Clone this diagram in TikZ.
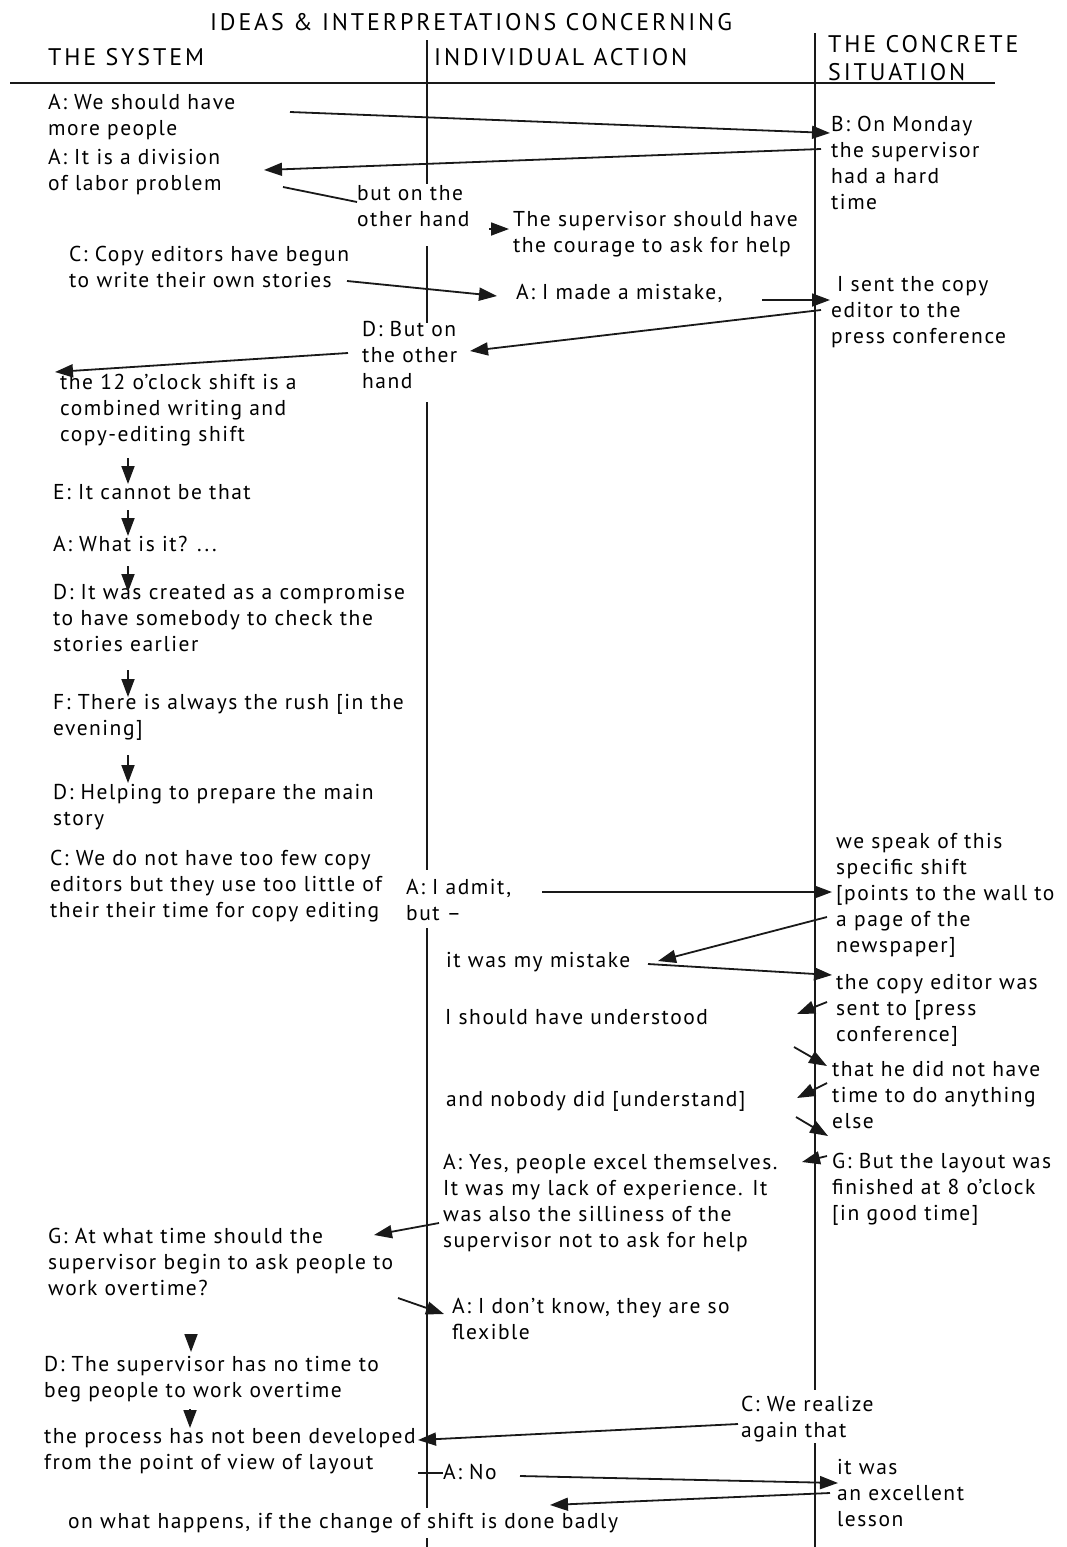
\documentclass[tikz,border=0pt]{standalone}
\usepackage{fontspec}
\setmainfont[LetterSpace=7]{PT Sans}
\newfontfamily\hdrfont[LetterSpace=12]{PT Sans}
\usetikzlibrary{arrows.meta}
\newcommand\tfont{\fontsize{21.5}{26}\selectfont}
\newcommand\hfont{\hdrfont\fontsize{24}{28}\selectfont}
\begin{document}
\begin{tikzpicture}[x=1pt,y=-1pt,
  txt/.style={anchor=north west,inner sep=0pt,align=left,font=\tfont},
  hdr/.style={anchor=north west,inner sep=0pt,align=left,font=\hfont},
  rule/.style={line width=1.8pt,draw=black!90},
  arr/.style={line width=1.8pt,draw=black!90,-{Triangle[length=18pt,width=13pt]}},
  conn/.style={line width=1.8pt,draw=black!90}]
\useasboundingbox[fill=white] (0,0) rectangle (1066,1547);

% header
\node[hdr,anchor=north] (hTitle) at (471,11) {\strut IDEAS \& INTERPRETATIONS CONCERNING};
\node[hdr] (hSys) at (48,46) {\strut THE SYSTEM};
\node[hdr] (hInd) at (434,46) {\strut INDIVIDUAL ACTION};
\node[hdr] (hConc) at (828,33) {\strut THE CONCRETE\\SITUATION};

% rules
\draw[rule] (10,83) -- (995,83);
\draw[rule] (427,40) -- (427,184);
\draw[rule] (427,246) -- (427,323);
\draw[rule] (427,402) -- (427,870);
\draw[rule] (427,928) -- (427,1508);
\draw[rule] (427,1538) -- (427,1547);
\draw[rule] (815,33) -- (815,1390);
\draw[rule] (815,1443) -- (815,1547);

% texts
\node[txt] (nA1) at (48,91) {\strut A: We should have\\more people};
\node[txt] (nA2) at (48,146) {\strut A: It is a division\\of labor problem};
\node[txt] (nB) at (831,113) {\strut B: On Monday\\the supervisor\\had a hard\\time};
\node[txt] (nBut) at (357,182) {\strut but on the\\other hand};
\node[txt] (nSup) at (513,208) {\strut The supervisor should have\\the courage to ask for help};
\node[txt] (nC1) at (69,243) {\strut C: Copy editors have begun\\to write their own stories};
\node[txt] (nMist) at (516,281) {\strut A: I made a mistake,};
\node[txt] (nSent) at (831,273) {\strut\hspace{6pt}I sent the copy\\editor to the\\press conference};
\node[txt] (nD1) at (362,318) {\strut D: But on\\the other\\hand};
\node[txt] (n12) at (60,371) {\strut the 12 o’clock shift is a\\combined writing and\\copy-editing shift};
\node[txt] (nE) at (53,481) {\strut E: It cannot be that};
\node[txt] (nWhat) at (53,533) {\strut A: What is it? ...};
\node[txt] (nComp) at (53,581) {\strut D: It was created as a compromise\\to have somebody to check the\\stories earlier};
\node[txt] (nRush) at (53,691) {\strut F: There is always the rush [in the\\evening]};
\node[txt] (nHelp) at (53,781) {\strut D: Helping to prepare the main\\story};
\node[txt] (nC2) at (50,847) {\strut C: We do not have too few copy\\editors but they use too little of\\their their time for copy editing};
\node[txt] (nAdmit) at (406,876) {\strut A: I admit,\\but –};
\node[txt] (nSpeak) at (836,830) {\strut we speak of this\\specific shift\\{[}points to the wall to\\a page of the\\newspaper]};
\node[txt] (nMy) at (446,949) {\strut it was my mistake};
\node[txt] (nCopyEd) at (836,971) {\strut the copy editor was\\sent to [press\\conference]};
\node[txt] (nUnd) at (445,1006) {\strut I should have understood};
\node[txt] (nTime) at (832,1058) {\strut that he did not have\\time to do anything\\else};
\node[txt] (nNobody) at (446,1088) {\strut and nobody did [understand]};
\node[txt] (nYes) at (443,1151) {\strut A: Yes, people excel themselves.\\It was my lack of experience. It\\was also the silliness of the\\supervisor not to ask for help};
\node[txt] (nG1) at (832,1150) {\strut G: But the layout was\\finished at 8 o'clock\\{[}in good time]};
\node[txt] (nG2) at (48,1225) {\strut G: At what time should the\\supervisor begin to ask people to\\work overtime?};
\node[txt] (nKnow) at (452,1295) {\strut A: I don’t know, they are so\\flexible};
\node[txt] (nBeg) at (44,1353) {\strut D: The supervisor has no time to\\beg people to work overtime};
\node[txt] (nReal) at (741,1393) {\strut C: We realize\\again that};
\node[txt] (nProc) at (44,1425) {\strut the process has not been developed\\from the point of view of layout};
\node[txt] (nNo) at (443,1461) {\strut A: No};
\node[txt] (nLesson) at (837,1456) {\strut it was\\an excellent\\lesson};
\node[txt] (nHapp) at (68,1510) {\strut on what happens, if the change of shift is done badly};

% connector end points
\coordinate (a1) at (290,112);  \coordinate (a2) at (830,133);
\coordinate (b1) at (821,149);  \coordinate (b2) at (264,170);
\coordinate (c1) at (283,187);  \coordinate (c2) at (357,202);
\coordinate (d1) at (489,229);  \coordinate (d2) at (509,229);
\coordinate (e1) at (347,281);  \coordinate (e2) at (497,296);
\coordinate (f1) at (762,300);  \coordinate (f2) at (830,300);
\coordinate (g1) at (821,310);  \coordinate (g2) at (470,351);
\coordinate (h1) at (348,353);  \coordinate (h2) at (55,372);
\coordinate (i1) at (128,458);  \coordinate (i2) at (128,484);
\coordinate (i3) at (128,510);  \coordinate (i4) at (128,536);
\coordinate (i5) at (128,566);  \coordinate (i6) at (128,592);
\coordinate (i7) at (128,670);  \coordinate (i8) at (128,697);
\coordinate (i9) at (128,755);  \coordinate (i10) at (128,783);
\coordinate (j1) at (542,892);  \coordinate (j2) at (832,892);
\coordinate (k1) at (827,917);  \coordinate (k2) at (658,961);
\coordinate (l1) at (648,964);  \coordinate (l2) at (832,975);
\coordinate (m1) at (827,1002); \coordinate (m2) at (797,1014);
\coordinate (n1) at (794,1047); \coordinate (n2) at (827,1066);
\coordinate (o1) at (827,1083); \coordinate (o2) at (797,1098);
\coordinate (p1) at (796,1117); \coordinate (p2) at (828,1136);
\coordinate (q1) at (827,1156); \coordinate (q2) at (802,1162);
\coordinate (r1) at (439,1223); \coordinate (r2) at (374,1235);
\coordinate (s1) at (398,1298); \coordinate (s2) at (444,1314);
\coordinate (t1) at (191,1334); \coordinate (t2) at (191,1352);
\coordinate (u1) at (190,1409); \coordinate (u2) at (190,1428);
\coordinate (v1) at (738,1424); \coordinate (v2) at (418,1440);
\coordinate (w1) at (418,1473); \coordinate (w2) at (443,1473);
\coordinate (x1) at (520,1476); \coordinate (x2) at (838,1483);
\coordinate (y1) at (830,1493); \coordinate (y2) at (550,1505);

% connectors
\draw[arr] (a1) -- (a2);
\draw[arr] (b1) -- (b2);
\draw[conn] (c1) -- (c2);
\draw[arr] (d1) -- (d2);
\draw[arr] (e1) -- (e2);
\draw[arr] (f1) -- (f2);
\draw[arr] (g1) -- (g2);
\draw[arr] (h1) -- (h2);
\draw[arr] (i1) -- (i2);
\draw[arr] (i3) -- (i4);
\draw[arr] (i5) -- (i6);
\draw[arr] (i7) -- (i8);
\draw[arr] (i9) -- (i10);
\draw[arr] (j1) -- (j2);
\draw[arr] (k1) -- (k2);
\draw[arr] (l1) -- (l2);
\draw[arr] (m1) -- (m2);
\draw[arr] (n1) -- (n2);
\draw[arr] (o1) -- (o2);
\draw[arr] (p1) -- (p2);
\draw[arr] (q1) -- (q2);
\draw[arr] (r1) -- (r2);
\draw[arr] (s1) -- (s2);
\draw[arr] (t1) -- (t2);
\draw[arr] (u1) -- (u2);
\draw[arr] (v1) -- (v2);
\draw[conn] (w1) -- (w2);
\draw[arr] (x1) -- (x2);
\draw[arr] (y1) -- (y2);
\end{tikzpicture}
\end{document}
